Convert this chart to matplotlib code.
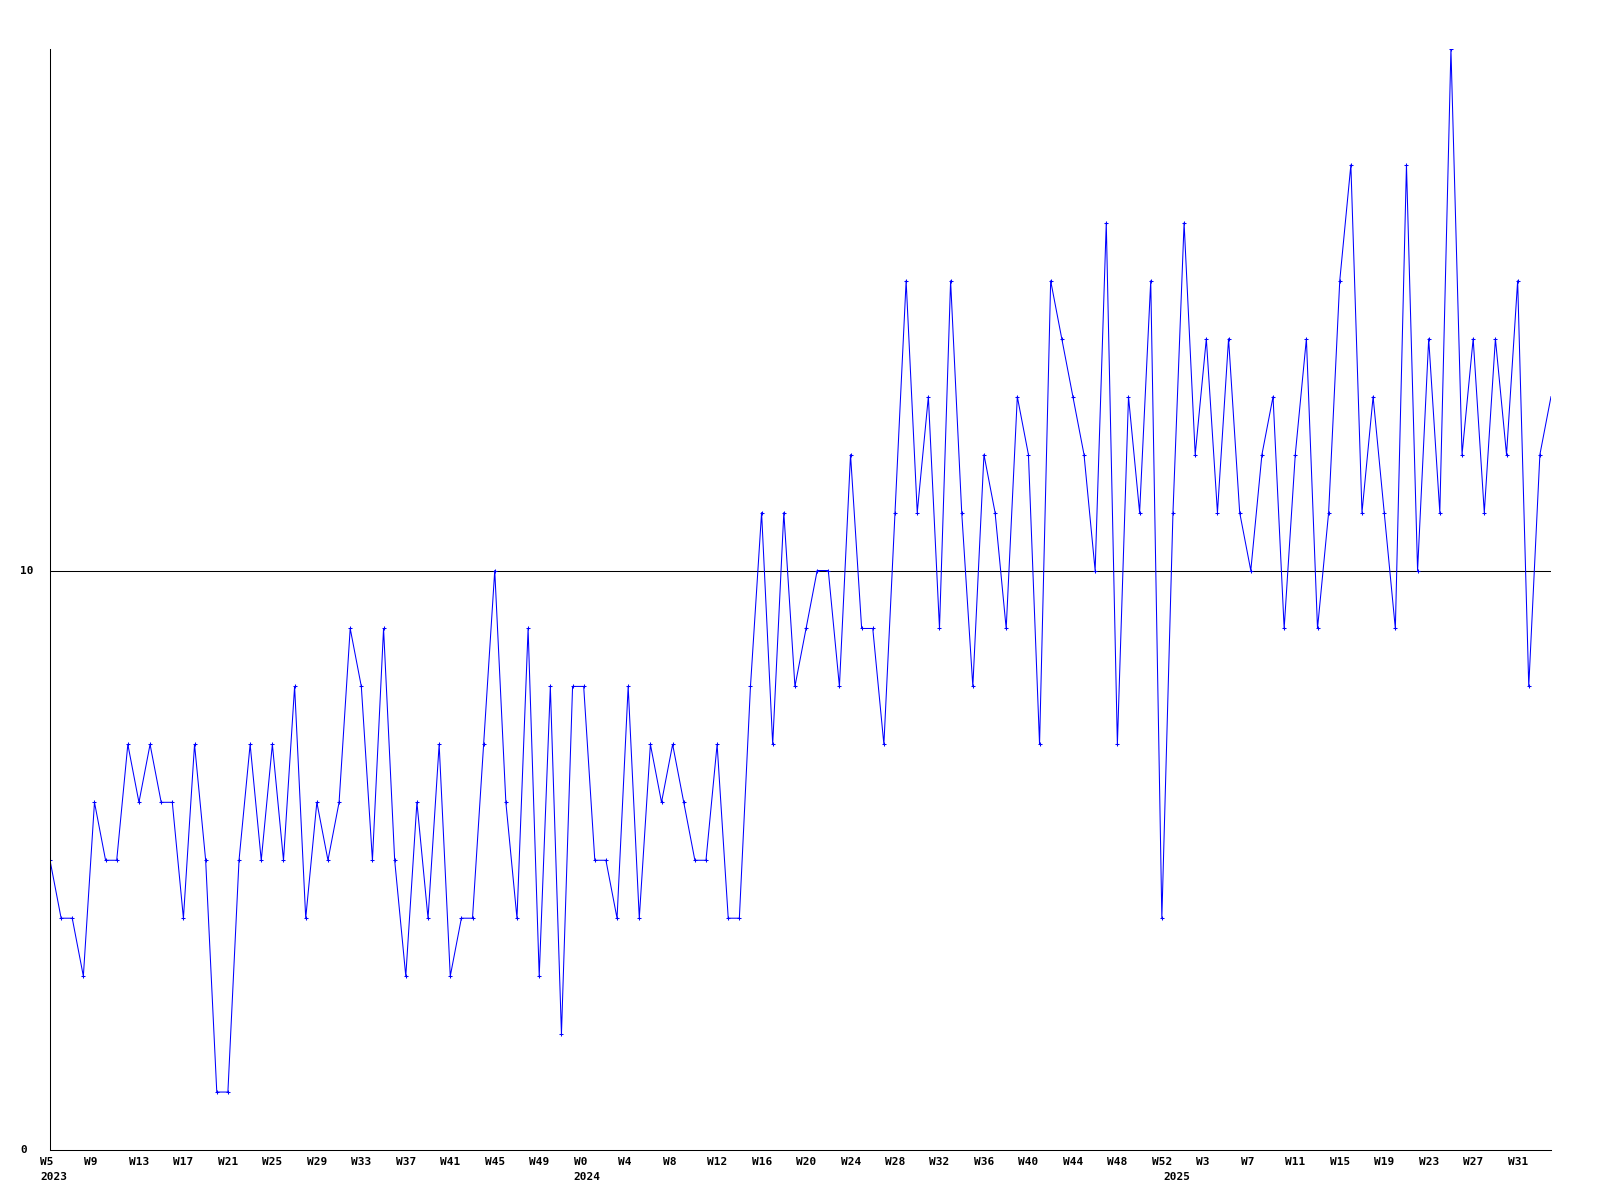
"""Weekly counts 2023 W5 - 2025 W34, gd-style line chart."""

import matplotlib

matplotlib.use("Agg")
import matplotlib.pyplot as plt

# one value per week, starting 2023 W5
values = [
    5, 4, 4, 3, 6, 5, 5, 7, 6, 7, 6, 6, 4, 7, 5, 1, 1, 5, 7, 5,
    7, 5, 8, 4, 6, 5, 6, 9, 8, 5, 9, 5, 3, 6, 4, 7, 3, 4, 4, 7,
    10, 6, 4, 9, 3, 8, 2, 8, 8, 5, 5, 4, 8, 4, 7, 6, 7, 6, 5, 5,
    7, 4, 4, 8, 11, 7, 11, 8, 9, 10, 10, 8, 12, 9, 9, 7, 11, 15, 11, 13,
    9, 15, 11, 8, 12, 11, 9, 13, 12, 7, 15, 14, 13, 12, 10, 16, 7, 13, 11, 15,
    4, 11, 16, 12, 14, 11, 14, 11, 10, 12, 13, 9, 12, 14, 9, 11, 15, 17, 11, 13,
    11, 9, 17, 10, 14, 11, 19, 12, 14, 11, 14, 12, 15, 8, 12, 13,
]

# every 4th week gets a label
tick_labels = [
    "W5", "W9", "W13", "W17", "W21", "W25", "W29", "W33", "W37", "W41", "W45", "W49",
    "W0", "W4", "W8", "W12", "W16", "W20", "W24", "W28", "W32", "W36", "W40", "W44",
    "W48", "W52", "W3", "W7", "W11", "W15", "W19", "W23", "W27", "W31",
]
years = ["2023", "2024", "2025"]
year_starts = [0, 48, 101]  # index of first week of each year
y_max = 19
ref_level = 10

FONT = dict(family="DejaVu Sans Mono", fontsize=8, fontweight="bold", color="black")

fig = plt.figure(figsize=(16, 12), dpi=100)
ax = fig.add_axes([50 / 1600, 1 - 1150 / 1200, 1501 / 1600, 1101 / 1200])

x = list(range(len(values)))
# last week runs into the right edge, no marker there
ax.plot(x, values, color="#0000ff", lw=0.75, marker="+", ms=3, mew=0.75,
        markevery=slice(0, len(values) - 1))
ax.axhline(ref_level, color="black", lw=0.75, zorder=0)

ax.set_xlim(0, len(values) - 1)
ax.set_ylim(0, y_max)

for s in ("top", "right"):
    ax.spines[s].set_visible(False)
for s in ("left", "bottom"):
    ax.spines[s].set_linewidth(0.75)
ax.set_xticks([])
ax.set_yticks([])

# week labels: start a little left of their point, under the axis
for i, lab in zip(range(0, len(values), 4), tick_labels):
    ax.annotate(lab, xy=(i, 0), xycoords=("data", "axes fraction"),
                xytext=(-10, -7), textcoords="offset pixels",
                ha="left", va="top", **FONT)
for i, yr in zip(year_starts, years):
    ax.annotate(yr, xy=(i, 0), xycoords=("data", "axes fraction"),
                xytext=(-10, -22), textcoords="offset pixels",
                ha="left", va="top", **FONT)

# y labels only at 0 and the reference line
for v in (0, ref_level):
    ax.annotate(str(v), xy=(0, v), xycoords=("axes fraction", "data"),
                xytext=(-30, 0), textcoords="offset pixels",
                ha="left", va="center", **FONT)

fig.savefig("out.png", dpi=100)
